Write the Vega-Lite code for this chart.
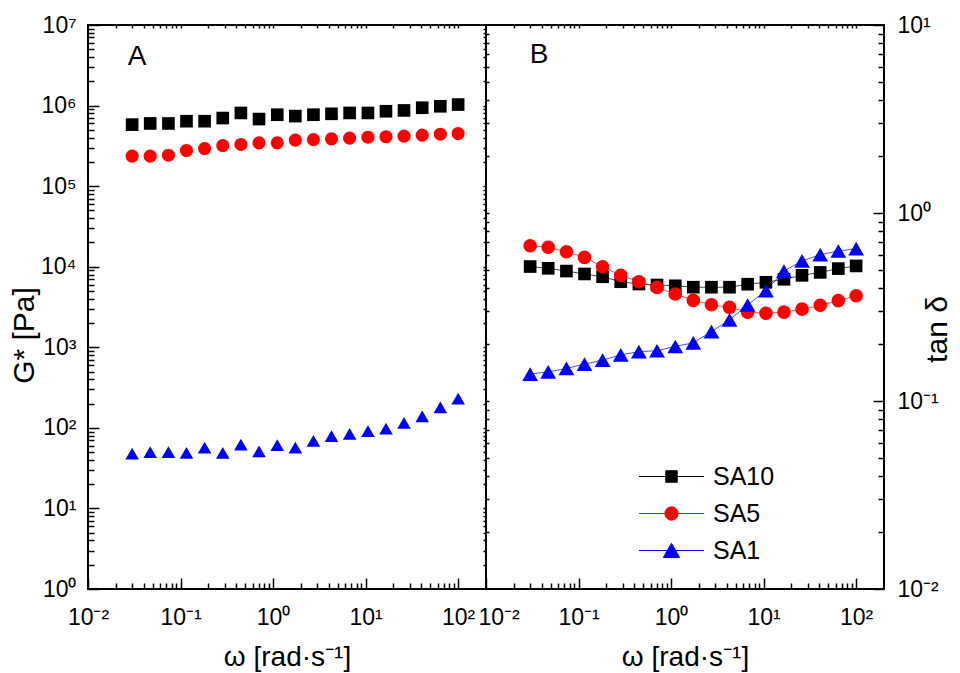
{
  "$schema": "https://vega.github.io/schema/vega-lite/v6.json",
  "padding": {"left": 8, "top": 13, "right": 5, "bottom": 5},
  "spacing": 0,
  "bounds": "flush",
  "config": {
    "font": "Liberation Sans",
    "view": {"stroke": "black", "strokeWidth": 2},
    "axis": {
      "grid": false,
      "domain": false,
      "labelFont": "Liberation Sans",
      "labelFontSize": 23,
      "labelColor": "black",
      "labelOverlap": false,
      "labelBound": false,
      "tickColor": "black",
      "tickOpacity": 1,
      "tickWidth": 1.5,
      "titleFont": "Liberation Sans",
      "titleFontSize": 30,
      "titleFontWeight": "normal",
      "titleColor": "black"
    }
  },
  "datasets": {
    "modulus": [
      {"omega": 0.03, "G": 580000, "sample": "SA10"},
      {"omega": 0.047, "G": 600000, "sample": "SA10"},
      {"omega": 0.074, "G": 600000, "sample": "SA10"},
      {"omega": 0.116, "G": 640000, "sample": "SA10"},
      {"omega": 0.182, "G": 640000, "sample": "SA10"},
      {"omega": 0.286, "G": 700000, "sample": "SA10"},
      {"omega": 0.449, "G": 810000, "sample": "SA10"},
      {"omega": 0.705, "G": 680000, "sample": "SA10"},
      {"omega": 1.11, "G": 770000, "sample": "SA10"},
      {"omega": 1.74, "G": 740000, "sample": "SA10"},
      {"omega": 2.73, "G": 770000, "sample": "SA10"},
      {"omega": 4.28, "G": 790000, "sample": "SA10"},
      {"omega": 6.72, "G": 810000, "sample": "SA10"},
      {"omega": 10.6, "G": 810000, "sample": "SA10"},
      {"omega": 16.6, "G": 850000, "sample": "SA10"},
      {"omega": 26.0, "G": 870000, "sample": "SA10"},
      {"omega": 40.9, "G": 940000, "sample": "SA10"},
      {"omega": 64.2, "G": 980000, "sample": "SA10"},
      {"omega": 100, "G": 1030000, "sample": "SA10"},
      {"omega": 0.03, "G": 236000, "sample": "SA5"},
      {"omega": 0.047, "G": 236000, "sample": "SA5"},
      {"omega": 0.074, "G": 242000, "sample": "SA5"},
      {"omega": 0.116, "G": 277000, "sample": "SA5"},
      {"omega": 0.182, "G": 293000, "sample": "SA5"},
      {"omega": 0.286, "G": 319000, "sample": "SA5"},
      {"omega": 0.449, "G": 329000, "sample": "SA5"},
      {"omega": 0.705, "G": 345000, "sample": "SA5"},
      {"omega": 1.11, "G": 345000, "sample": "SA5"},
      {"omega": 1.74, "G": 372000, "sample": "SA5"},
      {"omega": 2.73, "G": 379000, "sample": "SA5"},
      {"omega": 4.28, "G": 387000, "sample": "SA5"},
      {"omega": 6.72, "G": 394000, "sample": "SA5"},
      {"omega": 10.6, "G": 405000, "sample": "SA5"},
      {"omega": 16.6, "G": 410000, "sample": "SA5"},
      {"omega": 26.0, "G": 417000, "sample": "SA5"},
      {"omega": 40.9, "G": 429000, "sample": "SA5"},
      {"omega": 64.2, "G": 441000, "sample": "SA5"},
      {"omega": 100, "G": 450000, "sample": "SA5"},
      {"omega": 0.03, "G": 48, "sample": "SA1"},
      {"omega": 0.047, "G": 50, "sample": "SA1"},
      {"omega": 0.074, "G": 50, "sample": "SA1"},
      {"omega": 0.116, "G": 49, "sample": "SA1"},
      {"omega": 0.182, "G": 57, "sample": "SA1"},
      {"omega": 0.286, "G": 49, "sample": "SA1"},
      {"omega": 0.449, "G": 62, "sample": "SA1"},
      {"omega": 0.705, "G": 51, "sample": "SA1"},
      {"omega": 1.11, "G": 61, "sample": "SA1"},
      {"omega": 1.74, "G": 57, "sample": "SA1"},
      {"omega": 2.73, "G": 69, "sample": "SA1"},
      {"omega": 4.28, "G": 79, "sample": "SA1"},
      {"omega": 6.72, "G": 84, "sample": "SA1"},
      {"omega": 10.6, "G": 91, "sample": "SA1"},
      {"omega": 16.6, "G": 98, "sample": "SA1"},
      {"omega": 26.0, "G": 115, "sample": "SA1"},
      {"omega": 40.9, "G": 139, "sample": "SA1"},
      {"omega": 64.2, "G": 180, "sample": "SA1"},
      {"omega": 100, "G": 231, "sample": "SA1"}
    ],
    "lossTangent": [
      {"omega": 0.03, "tan": 0.519, "sample": "SA10"},
      {"omega": 0.047, "tan": 0.508, "sample": "SA10"},
      {"omega": 0.074, "tan": 0.491, "sample": "SA10"},
      {"omega": 0.116, "tan": 0.474, "sample": "SA10"},
      {"omega": 0.182, "tan": 0.458, "sample": "SA10"},
      {"omega": 0.286, "tan": 0.431, "sample": "SA10"},
      {"omega": 0.449, "tan": 0.419, "sample": "SA10"},
      {"omega": 0.705, "tan": 0.414, "sample": "SA10"},
      {"omega": 1.11, "tan": 0.410, "sample": "SA10"},
      {"omega": 1.74, "tan": 0.403, "sample": "SA10"},
      {"omega": 2.73, "tan": 0.403, "sample": "SA10"},
      {"omega": 4.28, "tan": 0.403, "sample": "SA10"},
      {"omega": 6.72, "tan": 0.418, "sample": "SA10"},
      {"omega": 10.6, "tan": 0.428, "sample": "SA10"},
      {"omega": 16.6, "tan": 0.444, "sample": "SA10"},
      {"omega": 26.0, "tan": 0.466, "sample": "SA10"},
      {"omega": 40.9, "tan": 0.483, "sample": "SA10"},
      {"omega": 64.2, "tan": 0.506, "sample": "SA10"},
      {"omega": 100, "tan": 0.523, "sample": "SA10"},
      {"omega": 0.03, "tan": 0.670, "sample": "SA5"},
      {"omega": 0.047, "tan": 0.657, "sample": "SA5"},
      {"omega": 0.074, "tan": 0.622, "sample": "SA5"},
      {"omega": 0.116, "tan": 0.581, "sample": "SA5"},
      {"omega": 0.182, "tan": 0.518, "sample": "SA5"},
      {"omega": 0.286, "tan": 0.466, "sample": "SA5"},
      {"omega": 0.449, "tan": 0.431, "sample": "SA5"},
      {"omega": 0.705, "tan": 0.402, "sample": "SA5"},
      {"omega": 1.11, "tan": 0.371, "sample": "SA5"},
      {"omega": 1.74, "tan": 0.343, "sample": "SA5"},
      {"omega": 2.73, "tan": 0.325, "sample": "SA5"},
      {"omega": 4.28, "tan": 0.315, "sample": "SA5"},
      {"omega": 6.72, "tan": 0.297, "sample": "SA5"},
      {"omega": 10.6, "tan": 0.293, "sample": "SA5"},
      {"omega": 16.6, "tan": 0.297, "sample": "SA5"},
      {"omega": 26.0, "tan": 0.308, "sample": "SA5"},
      {"omega": 40.9, "tan": 0.323, "sample": "SA5"},
      {"omega": 64.2, "tan": 0.342, "sample": "SA5"},
      {"omega": 100, "tan": 0.363, "sample": "SA5"},
      {"omega": 0.03, "tan": 0.139, "sample": "SA1"},
      {"omega": 0.047, "tan": 0.143, "sample": "SA1"},
      {"omega": 0.074, "tan": 0.149, "sample": "SA1"},
      {"omega": 0.116, "tan": 0.157, "sample": "SA1"},
      {"omega": 0.182, "tan": 0.165, "sample": "SA1"},
      {"omega": 0.286, "tan": 0.176, "sample": "SA1"},
      {"omega": 0.449, "tan": 0.183, "sample": "SA1"},
      {"omega": 0.705, "tan": 0.185, "sample": "SA1"},
      {"omega": 1.11, "tan": 0.195, "sample": "SA1"},
      {"omega": 1.74, "tan": 0.204, "sample": "SA1"},
      {"omega": 2.73, "tan": 0.234, "sample": "SA1"},
      {"omega": 4.28, "tan": 0.270, "sample": "SA1"},
      {"omega": 6.72, "tan": 0.324, "sample": "SA1"},
      {"omega": 10.6, "tan": 0.386, "sample": "SA1"},
      {"omega": 16.6, "tan": 0.491, "sample": "SA1"},
      {"omega": 26.0, "tan": 0.556, "sample": "SA1"},
      {"omega": 40.9, "tan": 0.600, "sample": "SA1"},
      {"omega": 64.2, "tan": 0.628, "sample": "SA1"},
      {"omega": 100, "tan": 0.646, "sample": "SA1"}
    ],
    "tagA": [{"omega": 0.034, "G": 4000000, "label": "A"}],
    "tagB": [{"omega": 0.0374, "tan": 6.9, "label": "B"}]
  },
  "hconcat": [
    {
      "width": 398,
      "height": 564,
      "layer": [
        {
          "data": {"name": "modulus"},
          "mark": {"type": "point", "filled": true, "opacity": 1, "strokeWidth": 0},
          "encoding": {
            "x": {"field": "omega", "type": "quantitative",
              "scale": {"type": "log", "domain": [0.01, 200], "nice": false},
              "axis": {"orient": "bottom", "values": [0.01, 0.1, 1, 10, 100], "ticks": true, "tickSize": -11, "labelPadding": 28, "labelFlush": false,
                "labelExpr": "'10' + ['⁻²','⁻¹','⁰','¹','²','³','⁴','⁵','⁶','⁷'][round(log(datum.value)/LN10)+2]",
                "title": "ω [rad·s⁻¹]", "titleFontSize": 28, "titlePadding": 14}},
            "y": {"field": "G", "type": "quantitative",
              "scale": {"type": "log", "domain": [1, 10000000], "nice": false},
              "axis": {"orient": "left", "values": [1, 10, 100, 1000, 10000, 100000, 1000000, 10000000], "ticks": true, "tickSize": -11, "labelPadding": 23,
                "labelExpr": "'10' + ['⁻²','⁻¹','⁰','¹','²','³','⁴','⁵','⁶','⁷'][round(log(datum.value)/LN10)+2]",
                "title": "G* [Pa]", "titlePadding": 1, "titleY": 310}},
            "color": {"field": "sample", "type": "nominal",
              "scale": {"domain": ["SA10", "SA5", "SA1"], "range": ["#000000", "#ff0000", "#0000ff"]}, "legend": null},
            "shape": {"field": "sample", "type": "nominal",
              "scale": {"domain": ["SA10", "SA5", "SA1"], "range": ["square", "circle", "triangle-up"]}, "legend": null},
            "size": {"field": "sample", "type": "ordinal",
              "scale": {"domain": ["SA10", "SA5", "SA1"], "range": [160, 185, 250]}, "legend": null}
          }
        },
        {
          "data": {"name": "modulus"},
          "mark": {"type": "point", "opacity": 0},
          "encoding": {
            "x": {"field": "omega", "type": "quantitative",
              "axis": {"orient": "bottom", "labels": false, "ticks": true, "tickSize": -6, "title": null,
                "values": [0.02, 0.03, 0.04, 0.05, 0.06, 0.07, 0.08, 0.09, 0.2, 0.3, 0.4, 0.5, 0.6, 0.7, 0.8, 0.9, 2, 3, 4, 5, 6, 7, 8, 9, 20, 30, 40, 50, 60, 70, 80, 90]}},
            "y": {"field": "G", "type": "quantitative",
              "axis": {"orient": "left", "labels": false, "ticks": true, "tickSize": -6, "title": null,
                "values": [2, 3, 4, 5, 6, 7, 8, 9, 20, 30, 40, 50, 60, 70, 80, 90, 200, 300, 400, 500, 600, 700, 800, 900, 2000, 3000, 4000, 5000, 6000, 7000, 8000, 9000, 20000, 30000, 40000, 50000, 60000, 70000, 80000, 90000, 200000, 300000, 400000, 500000, 600000, 700000, 800000, 900000, 2000000, 3000000, 4000000, 5000000, 6000000, 7000000, 8000000, 9000000]}}
          }
        },
        {
          "data": {"name": "modulus"},
          "mark": {"type": "point", "opacity": 0},
          "encoding": {
            "x": {"field": "omega", "type": "quantitative",
              "axis": {"orient": "top", "labels": false, "ticks": true, "tickSize": -3, "title": null,
                "values": [0.02, 0.03, 0.04, 0.05, 0.06, 0.07, 0.08, 0.09, 0.1, 0.2, 0.3, 0.4, 0.5, 0.6, 0.7, 0.8, 0.9, 1, 2, 3, 4, 5, 6, 7, 8, 9, 10, 20, 30, 40, 50, 60, 70, 80, 90, 100]}},
            "y": {"field": "G", "type": "quantitative",
              "axis": {"orient": "right", "labels": false, "ticks": true, "tickSize": -3, "title": null,
                "values": [2, 3, 4, 5, 6, 7, 8, 9, 10, 20, 30, 40, 50, 60, 70, 80, 90, 100, 200, 300, 400, 500, 600, 700, 800, 900, 1000, 2000, 3000, 4000, 5000, 6000, 7000, 8000, 9000, 10000, 20000, 30000, 40000, 50000, 60000, 70000, 80000, 90000, 100000, 200000, 300000, 400000, 500000, 600000, 700000, 800000, 900000, 1000000, 2000000, 3000000, 4000000, 5000000, 6000000, 7000000, 8000000, 9000000]}}
          }
        },
        {
          "data": {"name": "tagA"},
          "mark": {"type": "text", "fontSize": 28, "font": "Liberation Sans", "color": "black", "align": "center", "baseline": "middle"},
          "encoding": {
            "x": {"field": "omega", "type": "quantitative", "axis": null},
            "y": {"field": "G", "type": "quantitative", "axis": null},
            "text": {"field": "label"}
          }
        }
      ],
      "resolve": {"axis": {"x": "independent", "y": "independent"}}
    },
    {
      "width": 398,
      "height": 564,
      "layer": [
        {
          "data": {"name": "lossTangent"},
          "transform": [{"filter": "datum.sample === 'SA10'"}],
          "mark": {"type": "line", "strokeWidth": 0.7, "color": "#000000"},
          "encoding": {
            "x": {"field": "omega", "type": "quantitative",
              "scale": {"type": "log", "domain": [0.01, 200], "nice": false},
              "axis": {"orient": "bottom", "values": [0.01, 0.1, 1, 10, 100], "ticks": true, "tickSize": -11, "labelPadding": 28, "labelFlush": true, "labelFlushOffset": 8,
                "labelExpr": "'10' + ['⁻²','⁻¹','⁰','¹','²','³','⁴','⁵','⁶','⁷'][round(log(datum.value)/LN10)+2]",
                "title": "ω [rad·s⁻¹]", "titleFontSize": 28, "titlePadding": 14}},
            "y": {"field": "tan", "type": "quantitative",
              "scale": {"type": "log", "domain": [0.01, 10], "nice": false},
              "axis": {"orient": "right", "values": [0.01, 0.1, 1, 10], "ticks": true, "tickSize": -11, "labelPadding": 24,
                "labelExpr": "'10' + ['⁻²','⁻¹','⁰','¹','²','³','⁴','⁵','⁶','⁷'][round(log(datum.value)/LN10)+2]",
                "title": "tan δ", "titleAngle": 270, "titlePadding": 14, "titleY": 304}}
          }
        },
        {
          "data": {"name": "lossTangent"},
          "transform": [{"filter": "datum.sample === 'SA5'"}],
          "mark": {"type": "line", "strokeWidth": 0.7, "color": "#ff0000"},
          "encoding": {
            "x": {"field": "omega", "type": "quantitative", "axis": null},
            "y": {"field": "tan", "type": "quantitative", "axis": null}
          }
        },
        {
          "data": {"name": "lossTangent"},
          "transform": [{"filter": "datum.sample === 'SA1'"}],
          "mark": {"type": "line", "strokeWidth": 0.7, "color": "#0000ff"},
          "encoding": {
            "x": {"field": "omega", "type": "quantitative", "axis": null},
            "y": {"field": "tan", "type": "quantitative", "axis": null}
          }
        },
        {
          "data": {"name": "lossTangent"},
          "transform": [{"filter": "datum.sample === 'SA10'"}],
          "mark": {"type": "point", "shape": "square", "size": 160, "filled": true, "color": "#000000", "opacity": 1, "strokeWidth": 0},
          "encoding": {
            "x": {"field": "omega", "type": "quantitative",
              "axis": {"orient": "bottom", "labels": false, "ticks": true, "tickSize": -6, "title": null,
                "values": [0.02, 0.03, 0.04, 0.05, 0.06, 0.07, 0.08, 0.09, 0.2, 0.3, 0.4, 0.5, 0.6, 0.7, 0.8, 0.9, 2, 3, 4, 5, 6, 7, 8, 9, 20, 30, 40, 50, 60, 70, 80, 90]}},
            "y": {"field": "tan", "type": "quantitative",
              "axis": {"orient": "right", "labels": false, "ticks": true, "tickSize": -6, "title": null,
                "values": [0.02, 0.03, 0.04, 0.05, 0.06, 0.07, 0.08, 0.09, 0.2, 0.3, 0.4, 0.5, 0.6, 0.7, 0.8, 0.9, 2, 3, 4, 5, 6, 7, 8, 9]}}
          }
        },
        {
          "data": {"name": "lossTangent"},
          "transform": [{"filter": "datum.sample === 'SA5'"}],
          "mark": {"type": "point", "shape": "circle", "size": 185, "filled": true, "color": "#ff0000", "opacity": 1, "strokeWidth": 0},
          "encoding": {
            "x": {"field": "omega", "type": "quantitative",
              "axis": {"orient": "top", "labels": false, "ticks": true, "tickSize": -3, "title": null,
                "values": [0.02, 0.03, 0.04, 0.05, 0.06, 0.07, 0.08, 0.09, 0.1, 0.2, 0.3, 0.4, 0.5, 0.6, 0.7, 0.8, 0.9, 1, 2, 3, 4, 5, 6, 7, 8, 9, 10, 20, 30, 40, 50, 60, 70, 80, 90, 100]}},
            "y": {"field": "tan", "type": "quantitative",
              "axis": {"orient": "left", "labels": false, "ticks": true, "tickSize": -3, "title": null,
                "values": [0.02, 0.03, 0.04, 0.05, 0.06, 0.07, 0.08, 0.09, 0.1, 0.2, 0.3, 0.4, 0.5, 0.6, 0.7, 0.8, 0.9, 1, 2, 3, 4, 5, 6, 7, 8, 9]}}
          }
        },
        {
          "data": {"name": "lossTangent"},
          "transform": [{"filter": "datum.sample === 'SA1'"}],
          "mark": {"type": "point", "shape": "triangle-up", "size": 250, "filled": true, "color": "#0000ff", "opacity": 1, "strokeWidth": 0},
          "encoding": {
            "x": {"field": "omega", "type": "quantitative", "axis": null},
            "y": {"field": "tan", "type": "quantitative", "axis": null}
          }
        },
        {
          "data": {"name": "lossTangent"},
          "mark": {"type": "point", "filled": true, "opacity": 0},
          "encoding": {
            "x": {"field": "omega", "type": "quantitative", "axis": null},
            "y": {"field": "tan", "type": "quantitative", "axis": null},
            "fill": {"field": "sample", "type": "nominal",
              "scale": {"domain": ["SA10", "SA5", "SA1"], "range": ["#000000", "#ff0000", "#0000ff"]},
              "legend": {"orient": "none", "legendX": 173, "legendY": 439, "title": null, "padding": 0,
                "symbolSize": 169, "symbolStrokeWidth": 1, "symbolOpacity": 1,
                "labelFont": "Liberation Sans", "labelFontSize": 25, "labelColor": "black", "labelOffset": 29, "rowPadding": 11}},
            "stroke": {"field": "sample", "type": "nominal",
              "scale": {"domain": ["SA10", "SA5", "SA1"], "range": ["#000000", "#ff0000", "#0000ff"]},
              "legend": {"orient": "none", "legendX": 173, "legendY": 439, "title": null, "padding": 0,
                "symbolSize": 169, "symbolStrokeWidth": 1, "symbolOpacity": 1,
                "labelFont": "Liberation Sans", "labelFontSize": 25, "labelColor": "black", "labelOffset": 29, "rowPadding": 11}},
            "shape": {"field": "sample", "type": "nominal",
              "scale": {"domain": ["SA10", "SA5", "SA1"], "range": [
                "M-5,0H5M-0.88,-0.88H0.88V0.88H-0.88Z",
                "M-5,0H-1.02M1.02,0H5M-1.02,0A1.02,1.02,0,1,0,1.02,0A1.02,1.02,0,1,0,-1.02,0Z",
                "M-5,0H5M0,-1.12L1.25,1.08H-1.25Z"]},
              "legend": {"orient": "none", "legendX": 173, "legendY": 439, "title": null, "padding": 0,
                "symbolSize": 169, "symbolStrokeWidth": 1, "symbolOpacity": 1,
                "labelFont": "Liberation Sans", "labelFontSize": 25, "labelColor": "black", "labelOffset": 29, "rowPadding": 11}}
          }
        },
        {
          "data": {"name": "tagB"},
          "mark": {"type": "text", "fontSize": 28, "font": "Liberation Sans", "color": "black", "align": "center", "baseline": "middle"},
          "encoding": {
            "x": {"field": "omega", "type": "quantitative", "axis": null},
            "y": {"field": "tan", "type": "quantitative", "axis": null},
            "text": {"field": "label"}
          }
        }
      ],
      "resolve": {"axis": {"x": "independent", "y": "independent"}}
    }
  ],
  "resolve": {"scale": {"color": "independent", "shape": "independent", "size": "independent", "fill": "independent", "stroke": "independent"}}
}
